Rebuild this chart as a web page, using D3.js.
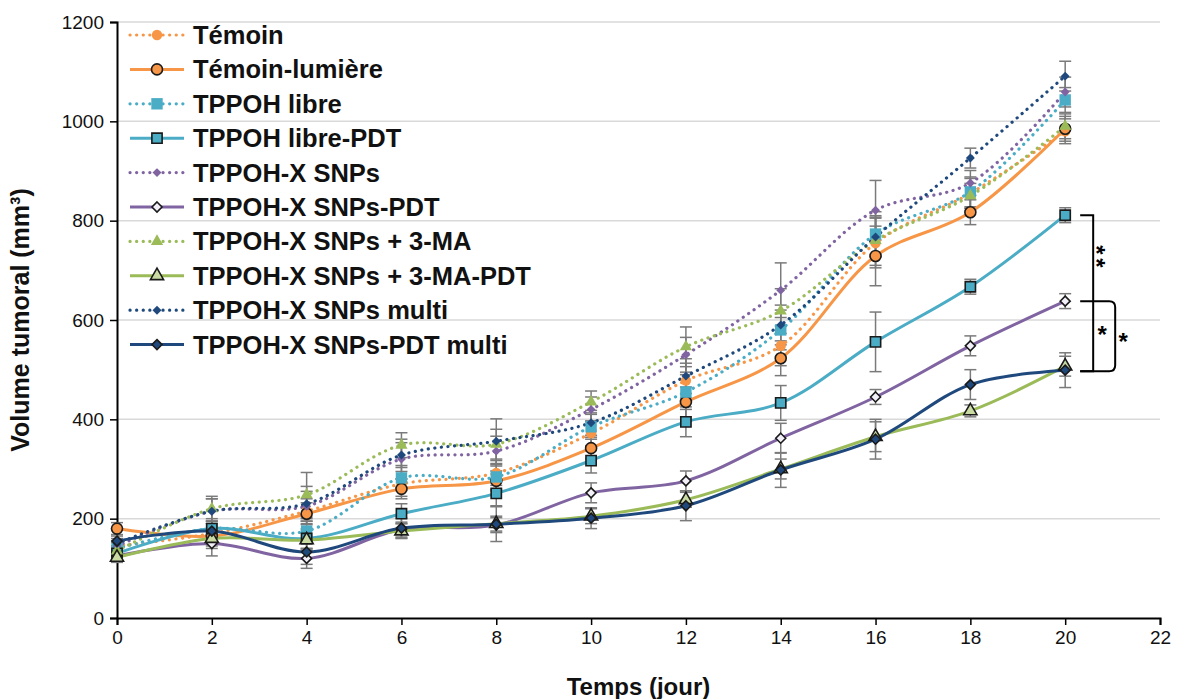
<!DOCTYPE html>
<html><head><meta charset="utf-8">
<script src="https://cdn.jsdelivr.net/npm/d3@7"></script>
<style>
body{margin:0;background:#fff;}
svg{display:block;font-family:"Liberation Sans",Arial,sans-serif;}
</style></head>
<body><svg id="chart" width="1181" height="699"></svg>
<script>
// ---- data ----
const days = [0,2,4,6,8,10,12,14,16,18,20];
const xTicks = [0,2,4,6,8,10,12,14,16,18,20,22];
const yTicks = [0,200,400,600,800,1000,1200];
const seriesNames = ["Témoin","Témoin-lumière","TPPOH libre","TPPOH libre-PDT","TPPOH-X SNPs","TPPOH-X SNPs-PDT","TPPOH-X SNPs + 3-MA","TPPOH-X SNPs + 3-MA-PDT","TPPOH-X SNPs multi","TPPOH-X SNPs-PDT multi"];
const temoin     = [145,170,215,270,292,372,478,548,755,855,980];
const temoinL    = [180,165,210,260,276,342,435,523,729,817,985];
const libre      = [140,180,175,282,284,385,455,580,773,858,1043];
const librePDT   = [130,180,160,210,251,317,395,433,556,667,811];
const snps       = [145,215,225,320,336,420,530,660,821,876,1059];
const snpsPDT    = [125,150,120,178,187,252,276,362,445,548,638];
const ma         = [135,220,248,348,350,435,546,618,760,850,990];
const maPDT      = [122,160,157,175,190,205,238,300,365,417,507];
const multi      = [150,215,230,328,356,393,487,590,767,926,1091];
const multiPDT   = [155,175,133,181,189,201,226,298,360,470,499];
const errTemoin   = [10,20,25,25,25,25,35,40,50,30,25];
const errTemoinL  = [12,20,22,20,20,22,30,35,60,25,25];
const errLibre    = [12,20,25,25,25,25,35,40,45,30,25];
const errLibrePDT = [10,15,20,20,25,25,30,35,60,15,15];
const errSnps     = [10,25,30,40,30,25,35,55,60,25,30];
const errSnpsPDT  = [10,25,20,15,15,20,20,30,15,20,15];
const errMa       = [10,25,45,25,30,22,40,45,50,25,25];
const errMaPDT    = [10,20,20,15,15,15,15,20,30,12,20];
const errMulti    = [10,25,35,25,45,25,35,40,40,20,30];
const errMultiPDT = [10,20,25,20,35,21,30,35,40,30,35];
const significance = [{from:811,to:499,label:"**"},{from:638,to:499,label:"*"}];

// ---- styles ----
const symbolRhombus = {draw(ctx,size){const r=Math.sqrt(size/2);ctx.moveTo(0,-r);ctx.lineTo(r,0);ctx.lineTo(0,r);ctx.lineTo(-r,0);ctx.closePath();}};
const C = {orange:"#F79646", aqua:"#4BACC6", purple:"#8064A2", green:"#9BBB59", navy:"#1F497D"};
const styles = [
  {color:C.orange, dotted:true,  sym:d3.symbolCircle,   size:85,  fill:C.orange, stroke:C.orange, sw:0},
  {color:C.orange, dotted:false, sym:d3.symbolCircle,   size:95,  fill:C.orange, stroke:"#1a1a1a", sw:1.6},
  {color:C.aqua,   dotted:true,  sym:d3.symbolSquare,   size:130, fill:C.aqua,   stroke:C.aqua, sw:0},
  {color:C.aqua,   dotted:false, sym:d3.symbolSquare,   size:105, fill:C.aqua,   stroke:"#1a1a1a", sw:1.6},
  {color:C.purple, dotted:true,  sym:symbolRhombus,     size:40,  fill:C.purple, stroke:C.purple, sw:0},
  {color:C.purple, dotted:false, sym:symbolRhombus,     size:50,  fill:"#f4f0fa",stroke:"#1a1a1a", sw:1.6},
  {color:C.green,  dotted:true,  sym:d3.symbolTriangle, size:65,  fill:C.green,  stroke:C.green, sw:0},
  {color:C.green,  dotted:false, sym:d3.symbolTriangle, size:75,  fill:"#c9dba3",stroke:"#1a1a1a", sw:1.6},
  {color:C.navy,   dotted:true,  sym:symbolRhombus,     size:40,  fill:C.navy,   stroke:C.navy, sw:0},
  {color:C.navy,   dotted:false, sym:symbolRhombus,     size:50,  fill:C.navy,   stroke:"#1a1a1a", sw:1.6}
];
const values = [temoin,temoinL,libre,librePDT,snps,snpsPDT,ma,maPDT,multi,multiPDT];
const errors = [errTemoin,errTemoinL,errLibre,errLibrePDT,errSnps,errSnpsPDT,errMa,errMaPDT,errMulti,errMultiPDT];

const svg = d3.select("#chart");
const m = {left:117, right:1160, top:22, bottom:618};
const x = d3.scaleLinear().domain([0,22]).range([m.left, m.right]);
const y = d3.scaleLinear().domain([0,1200]).range([m.bottom, m.top]);

// gridlines
svg.append("g").selectAll("line").data(yTicks.filter(d=>d>0)).join("line")
  .attr("x1", m.left).attr("x2", m.right)
  .attr("y1", d=>y(d)).attr("y2", d=>y(d))
  .attr("stroke","#d9d9d9").attr("stroke-width",1.5);

// axes
const xAxis = svg.append("g").attr("transform",`translate(0,${m.bottom})`)
  .call(d3.axisBottom(x).tickValues(xTicks).tickSize(7).tickPadding(6).tickFormat(d3.format("d")));
const yAxis = svg.append("g").attr("transform",`translate(${m.left},0)`)
  .call(d3.axisLeft(y).tickValues(yTicks).tickSize(7).tickPadding(6).tickFormat(d3.format("d")));
[xAxis,yAxis].forEach(a=>{
  a.select(".domain").attr("stroke","#000").attr("stroke-width",2);
  a.selectAll(".tick line").attr("stroke","#000").attr("stroke-width",1.5);
  a.selectAll(".tick text").attr("font-size",19).attr("fill","#111").attr("font-family","'Liberation Sans',Arial,sans-serif");
});

// error bars
const eb = svg.append("g");
values.forEach((vals,si)=>{
  const g = eb.append("g").attr("stroke","#7a7a7a").attr("stroke-width",1.5);
  days.forEach((d,i)=>{
    const e = errors[si][i], v = vals[i], cx = x(d);
    g.append("line").attr("x1",cx).attr("x2",cx).attr("y1",y(v-e)).attr("y2",y(v+e));
    g.append("line").attr("x1",cx-6).attr("x2",cx+6).attr("y1",y(v-e)).attr("y2",y(v-e));
    g.append("line").attr("x1",cx-6).attr("x2",cx+6).attr("y1",y(v+e)).attr("y2",y(v+e));
  });
});

// lines
const line = d3.line().x((d,i)=>x(days[i])).y(d=>y(d)).curve(d3.curveCatmullRom.alpha(0.5));
const lg = svg.append("g").attr("fill","none");
values.forEach((vals,si)=>{
  const s = styles[si];
  const p = lg.append("path").attr("d", line(vals)).attr("stroke", s.color);
  if (s.dotted) p.attr("stroke-width",3.2).attr("stroke-dasharray","0.1,6.5").attr("stroke-linecap","round");
  else p.attr("stroke-width",3);
});

// markers
const mg = svg.append("g");
values.forEach((vals,si)=>{
  const s = styles[si];
  const sym = d3.symbol().type(s.sym).size(s.size);
  mg.append("g").selectAll("path").data(vals).join("path")
    .attr("d", sym)
    .attr("transform",(d,i)=>`translate(${x(days[i])},${y(d)})`)
    .attr("fill", s.fill).attr("stroke", s.stroke).attr("stroke-width", s.sw);
});

// legend
const leg = svg.append("g");
seriesNames.forEach((name,i)=>{
  const s = styles[i];
  const cy = 35 + i*34.4;
  const g = leg.append("g").attr("transform",`translate(0,${cy})`);
  const l = g.append("line").attr("x1",130).attr("x2",184).attr("y1",0).attr("y2",0).attr("stroke",s.color);
  if (s.dotted) l.attr("stroke-width",3.2).attr("stroke-dasharray","0.1,6.5").attr("stroke-linecap","round");
  else l.attr("stroke-width",3);
  g.append("path").attr("d", d3.symbol().type(s.sym).size(s.size)).attr("transform","translate(157,0)")
    .attr("fill", s.fill).attr("stroke", s.stroke).attr("stroke-width", s.sw);
  g.append("text").attr("x",193).attr("y",9).attr("font-size",25.5).attr("font-weight","bold").attr("fill","#111").text(name);
});

// significance brackets
const bx = x(20);
svg.append("path")
  .attr("d",`M${bx+15},${y(significance[0].from)} H${bx+28} V${y(significance[0].to)+1} H${bx+15}`)
  .attr("fill","none").attr("stroke","#000").attr("stroke-width",2);
svg.append("path")
  .attr("d",`M${bx+15},${y(significance[1].from)} H${bx+44} q6,0 6,6 V${y(significance[1].to)-5} q0,6 -6,6 H${bx+15}`)
  .attr("fill","none").attr("stroke","#000").attr("stroke-width",2);
// "**" written vertically (rotated), "*" single
const y2 = (y(significance[0].from)+y(significance[1].from))/2;
svg.append("text").attr("transform",`translate(${bx+36-13},${y2}) rotate(90)`)
  .attr("text-anchor","middle").attr("letter-spacing",3.5)
  .attr("font-size",24).attr("font-weight","bold").attr("fill","#000").text(significance[0].label);
const star = (cx,cy)=> svg.append("text").attr("x",cx).attr("y",cy+13).attr("text-anchor","middle")
  .attr("font-size",24).attr("font-weight","bold").attr("fill","#000").text("*");
star(bx+37, 330);
star(bx+58, 337);

// axis titles
svg.append("text").attr("x", x(11)).attr("y", 695).attr("text-anchor","middle")
  .attr("font-size",24).attr("font-weight","bold").attr("fill","#111").text("Temps (jour)");
svg.append("text").attr("transform",`translate(29,${(m.top+m.bottom)/2}) rotate(-90)`).attr("text-anchor","middle")
  .attr("font-size",25).attr("font-weight","bold").attr("fill","#111")
  .text("Volume tumoral (mm³)");
</script></body></html>
